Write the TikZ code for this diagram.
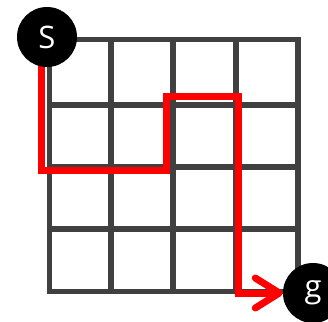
\documentclass[tikz,border=0pt]{standalone}
\usepackage{fontspec}
\setmainfont{Open Sans}
\usetikzlibrary{arrows.meta}
\definecolor{gridgray}{HTML}{404040}
\definecolor{pathred}{HTML}{FF0000}
\pgfdeclarelayer{board}
\pgfdeclarelayer{route}
\pgfsetlayers{board,route,main}
\begin{document}
\begin{tikzpicture}[x=1pt,y=-1pt,
  gridline/.style={draw=gridgray,line width=5.5pt,line cap=rect},
  route/.style={draw=pathred,line width=7pt,line join=miter,
    -{Straight Barb[length=24pt,width=30pt,round]}},
  endpoint/.style={circle,fill=black,text=white,minimum size=60pt,inner sep=0pt,
    font=\fontsize{31}{31}\selectfont}]
  \useasboundingbox (0,0) rectangle (328,321);
  % start and goal
  \node[endpoint] (s) at (47,37) {S};
  \node[endpoint] (g) at (313,293) {g};
  % 4x4 board
  \begin{pgfonlayer}{board}
    \foreach \x in {49.5,111,173,236,298}
      \draw[gridline] (\x,39.5) -- (\x,291.5);
    \foreach \y in {39.5,105,167,229,291.5}
      \draw[gridline] (49.5,\y) -- (298,\y);
  \end{pgfonlayer}
  % path from start to goal
  \begin{pgfonlayer}{route}
    \coordinate (a) at (41,62);
    \draw[route] (a) |- (166,170) |- (238,96) -- (238,293) -- (g);
  \end{pgfonlayer}
\end{tikzpicture}
\end{document}
